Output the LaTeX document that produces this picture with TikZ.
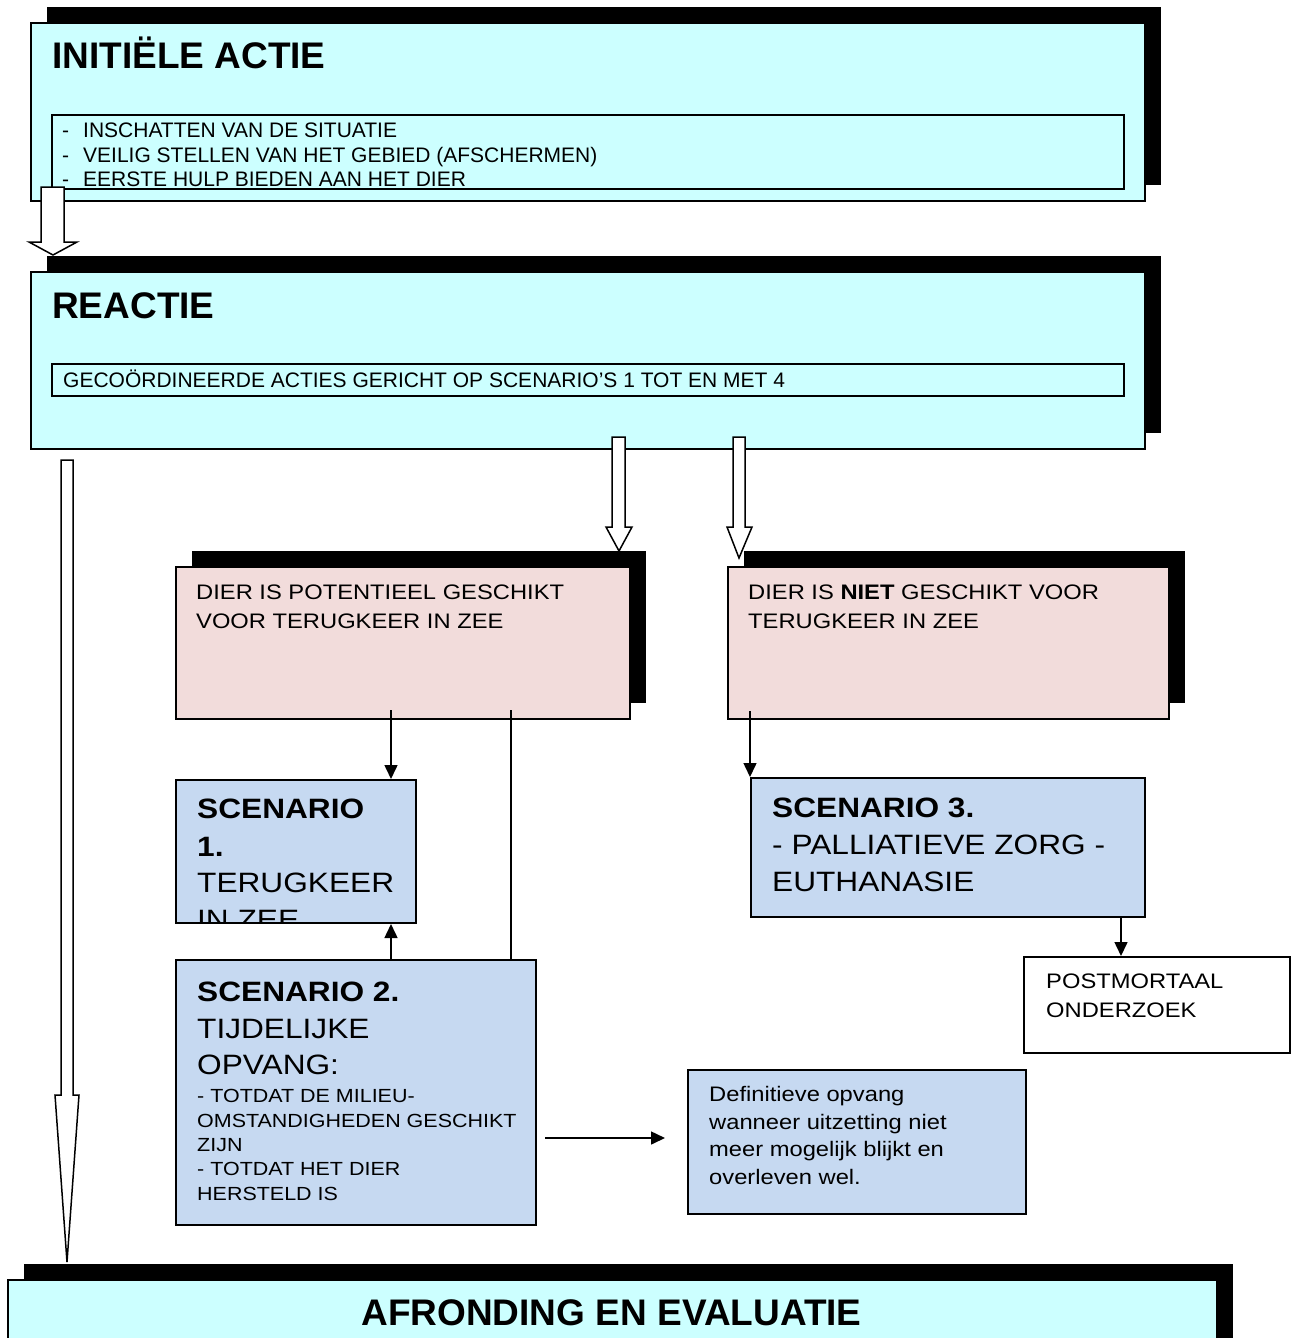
\documentclass[tikz,border=0pt]{standalone}
\usepackage{fontspec}
\setmainfont{Liberation Sans}
\newfontfamily\wide[FakeStretch=1.13]{Liberation Sans}
\usetikzlibrary{arrows.meta,shadows}
\definecolor{cyanfill}{HTML}{CCFFFF}
\definecolor{pinkfill}{HTML}{F2DCDB}
\definecolor{bluefill}{HTML}{C6D9F1}
\begin{document}
\begin{tikzpicture}[x=1pt,y=-1pt,
  box/.style={draw=black, line width=2pt, inner sep=0pt, anchor=north west},
  shadowed/.style={drop shadow={fill=black, opacity=1, shadow xshift=16pt, shadow yshift=16pt}},
  cyanbox/.style={box, fill=cyanfill, shadowed},
  innerbox/.style={box, fill=cyanfill},
  pinkbox/.style={box, fill=pinkfill, shadowed},
  bluebox/.style={box, fill=bluefill},
  whitebox/.style={box, fill=white},
  txt/.style={anchor=base west, inner sep=0pt},
  title/.style={txt, font=\bfseries\fontsize{37}{40}\selectfont},
  list/.style={txt, font=\fontsize{21}{24}\selectfont},
  pinktxt/.style={txt, font=\wide\fontsize{21}{24}\selectfont},
  bigtxt/.style={txt, font=\wide\fontsize{28}{32}\selectfont},
  smalltxt/.style={txt, font=\wide\fontsize{19}{22}\selectfont},
  conn/.style={line width=1.5pt, -{Triangle[width=13pt,length=14pt]}},
  plainline/.style={line width=1.5pt},
  blockarrow/.style={draw=black, fill=white, line width=1.5pt, line join=miter}
]
\useasboundingbox (0,0) rectangle (1291,1338);
\clip (0,0) rectangle (1291,1338);

% ---------- INITIELE ACTIE ----------
\node[cyanbox, minimum width=1114pt, minimum height=178pt] (ia) at (30,22) {};
\node[title] (iat) at (52,69) {INITIËLE ACTIE};
\node[innerbox, minimum width=1072pt, minimum height=74pt] (iab) at (51,114) {};
\node[list] (l1) at (62,137) {\makebox[21pt][l]{-}INSCHATTEN VAN DE SITUATIE};
\node[list] (l2) at (62,162) {\makebox[21pt][l]{-}VEILIG STELLEN VAN HET GEBIED (AFSCHERMEN)};
\node[list] (l3) at (62,186) {\makebox[21pt][l]{-}EERSTE HULP BIEDEN AAN HET DIER};

% ---------- REACTIE ----------
\node[cyanbox, minimum width=1114pt, minimum height=177pt] (re) at (30,271) {};
\node[title] (ret) at (52,318) {REACTIE};
\node[innerbox, minimum width=1072pt, minimum height=32pt] (reb) at (51,363) {};
\node[list] (rel) at (63,387) {GECOÖRDINEERDE ACTIES GERICHT OP SCENARIO’S 1 TOT EN MET 4};

% ---------- pink boxes ----------
\node[pinkbox, minimum width=454pt, minimum height=152pt] (p1) at (175,566) {};
\node[pinktxt] (p1a) at (196,599) {DIER IS POTENTIEEL GESCHIKT};
\node[pinktxt] (p1b) at (196,628) {VOOR TERUGKEER IN ZEE};
\node[pinkbox, minimum width=441pt, minimum height=152pt] (p2) at (727,566) {};
\node[pinktxt] (p2a) at (748,599) {DIER IS {\bfseries NIET} GESCHIKT VOOR};
\node[pinktxt] (p2b) at (748,628) {TERUGKEER IN ZEE};

% ---------- scenario 1 ----------
\node[bluebox, minimum width=240pt, minimum height=143pt] (s1) at (175,779) {};
\begin{scope}
  \clip (176,780) rectangle (414,921);
  \node[bigtxt, font=\wide\bfseries\fontsize{28}{32}\selectfont] (s1a) at (197,818) {SCENARIO};
  \node[bigtxt, font=\wide\bfseries\fontsize{28}{32}\selectfont] (s1b) at (197,856) {1.};
  \node[bigtxt] (s1c) at (197,892) {TERUGKEER};
  \node[bigtxt] (s1d) at (197,929) {IN ZEE};
\end{scope}

% ---------- scenario 2 ----------
\node[bluebox, minimum width=360pt, minimum height=265pt] (s2) at (175,959) {};
\node[bigtxt, font=\wide\bfseries\fontsize{28}{32}\selectfont] (s2a) at (197,1001) {SCENARIO 2.};
\node[bigtxt] (s2b) at (197,1038) {TIJDELIJKE};
\node[bigtxt] (s2c) at (197,1074) {OPVANG:};
\node[smalltxt] (s2d) at (197,1102) {- TOTDAT DE MILIEU-};
\node[smalltxt] (s2e) at (197,1127) {OMSTANDIGHEDEN GESCHIKT};
\node[smalltxt] (s2f) at (197,1151) {ZIJN};
\node[smalltxt] (s2g) at (197,1175) {- TOTDAT HET DIER};
\node[smalltxt] (s2h) at (197,1200) {HERSTELD IS};

% ---------- scenario 3 ----------
\node[bluebox, minimum width=394pt, minimum height=139pt] (s3) at (750,777) {};
\node[bigtxt, font=\wide\bfseries\fontsize{28}{32}\selectfont] (s3a) at (772,817) {SCENARIO 3.};
\node[bigtxt] (s3b) at (772,854) {- PALLIATIEVE ZORG -};
\node[bigtxt] (s3c) at (772,891) {EUTHANASIE};

% ---------- postmortaal ----------
\node[whitebox, minimum width=266pt, minimum height=96pt] (pm) at (1023,956) {};
\node[pinktxt] (pma) at (1046,988) {POSTMORTAAL};
\node[pinktxt] (pmb) at (1046,1017) {ONDERZOEK};

% ---------- definitieve opvang ----------
\node[bluebox, minimum width=338pt, minimum height=144pt] (df) at (687,1069) {};
\node[pinktxt] (dfa) at (709,1101) {Definitieve opvang};
\node[pinktxt] (dfb) at (709,1129) {wanneer uitzetting niet};
\node[pinktxt] (dfc) at (709,1156) {meer mogelijk blijkt en};
\node[pinktxt] (dfd) at (709,1184) {overleven wel.};

% ---------- afronding ----------
\node[cyanbox, minimum width=1209pt, minimum height=100pt] (af) at (7,1279) {};
\node[title, anchor=base] (aft) at (611.5,1325) {AFRONDING EN EVALUATIE};

% ---------- block arrows ----------
\draw[blockarrow] (41,187) -- (64,187) -- (64,242) -- (77,242) -- (53,255) -- (29,242) -- (41,242) -- cycle;
\draw[blockarrow] (612,437) -- (625,437) -- (625,527) -- (632,527) -- (619,551) -- (606,527) -- (612,527) -- cycle;
\draw[blockarrow] (733,437) -- (745,437) -- (745,527) -- (752,527) -- (739,558) -- (727,527) -- (733,527) -- cycle;
\draw[blockarrow] (61,460) -- (73,460) -- (73,1095) -- (79,1095) -- (67,1262) -- (55,1095) -- (61,1095) -- cycle;

% ---------- connectors ----------
\coordinate (c1) at (391,710);
\coordinate (c2) at (511,710);
\coordinate (c3) at (750,711);
\coordinate (c4) at (1121,0);
\coordinate (c5) at (545,1138);
\coordinate (c6) at (665,1138);
\draw[conn] (c1) -- (c1 |- s1.north);
\draw[plainline] (c2) -- (c2 |- s2.north);
\draw[conn] (s2.north -| c1) -- (s1.south -| c1);
\draw[conn] (c3) -- (c3 |- s3.north);
\draw[conn] (s3.south -| c4) -- (pm.north -| c4);
\draw[conn] (c5) -- (c6);
\end{tikzpicture}
\end{document}
